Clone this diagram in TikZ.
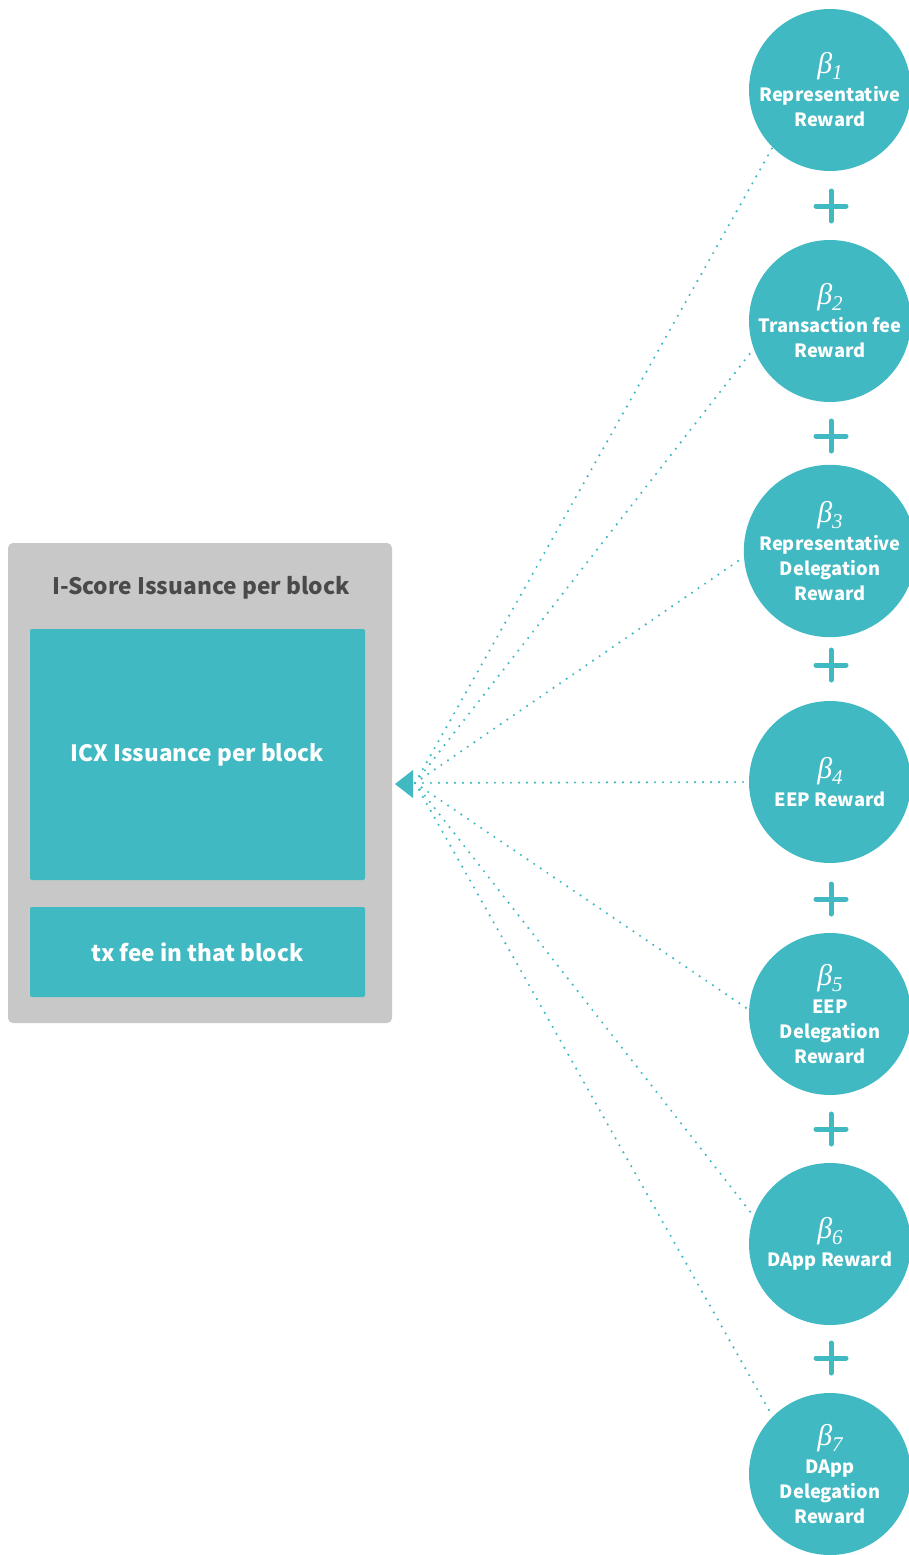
\documentclass[tikz,border=0pt]{standalone}
\usepackage{fontspec}
\setmainfont{Noto Sans CJK KR}
\newfontfamily\betafont{Liberation Serif}
\usetikzlibrary{shapes.geometric}
\definecolor{rewardteal}{HTML}{40B9C3}
\definecolor{poolgray}{HTML}{C8C8C8}
\definecolor{titlegray}{HTML}{4A4A4A}
\tikzset{
  reward/.style={circle, fill=rewardteal, minimum size=162, inner sep=0,
    text=white, align=center, font=\bfseries\fontsize{18.3}{25}\selectfont},
  pool/.style={rounded corners=5, fill=poolgray, minimum width=384,
    minimum height=480, inner sep=0},
  part/.style={rounded corners=2, fill=rewardteal, minimum width=335,
    inner sep=0, text=white, font=\bfseries\fontsize{22.5}{28}\selectfont},
  link/.style={rewardteal, line width=2.4, dash pattern=on 0pt off 8pt,
    line cap=round},
  plus/.style={rewardteal, line width=5, line cap=round}
}
\newcommand{\bsym}[1]{{\betafont\itshape\mdseries\fontsize{30}{30}\selectfont
  β\raisebox{-0.2em}{\fontsize{21}{21}\selectfont#1}}}
\begin{document}
\begin{tikzpicture}[x=1pt,y=-1pt]
  \useasboundingbox (0,0) rectangle (909,1555);
  % issuance pool
  \node[pool] (pool) at (200,783) {};
  \node[text=titlegray, font=\bfseries\fontsize{22.7}{28}\selectfont] (title) at (201,588) {I-Score Issuance per block};
  \node[part, minimum height=251] (icx) at (197.5,754.5) {ICX Issuance per block};
  \node[part, minimum height=90] (fee) at (197.5,952) {tx fee in that block};
  \fill[rewardteal] (395,784) -- (413,770) -- (413,798) -- cycle;
  \coordinate (hub) at (415,783);
  % rewards
  \draw
    (830,90) node[reward] (b1){\bsym{1}\\[3pt]Representative\\Reward}
    (830,321) node[reward] (b2){\bsym{2}\\[3pt]Transaction fee\\Reward}
    (830,551) node[reward] (b3){\bsym{3}\\[3pt]Representative\\Delegation\\Reward}
    (830,782) node[reward] (b4){\bsym{4}\\[3pt]EEP Reward}
    (830,1014) node[reward] (b5){\bsym{5}\\[3pt]EEP\\Delegation\\Reward}
    (830,1244) node[reward] (b6){\bsym{6}\\[3pt]DApp Reward}
    (830,1474) node[reward] (b7){\bsym{7}\\[3pt]DApp\\Delegation\\Reward};
  \draw[plus] (816,206) -- (846,206) (831,191) -- (831,221);
  \draw[plus] (816,436) -- (846,436) (831,421) -- (831,451);
  \draw[plus] (816,665) -- (846,665) (831,650) -- (831,680);
  \draw[plus] (816,899) -- (846,899) (831,884) -- (831,914);
  \draw[plus] (816,1129) -- (846,1129) (831,1114) -- (831,1144);
  \draw[plus] (816,1358) -- (846,1358) (831,1343) -- (831,1373);
  \begin{scope}[link]
    \draw (hub) to (b1.225);
    \draw (hub) to (b2.200);
    \draw (hub) to (b3.184);
    \draw (hub) to (b4.180);
    \draw (hub) to (b5.177);
    \draw (hub) to (b6.160);
    \draw (hub) to (b7.135);
  \end{scope}
\end{tikzpicture}
\end{document}
